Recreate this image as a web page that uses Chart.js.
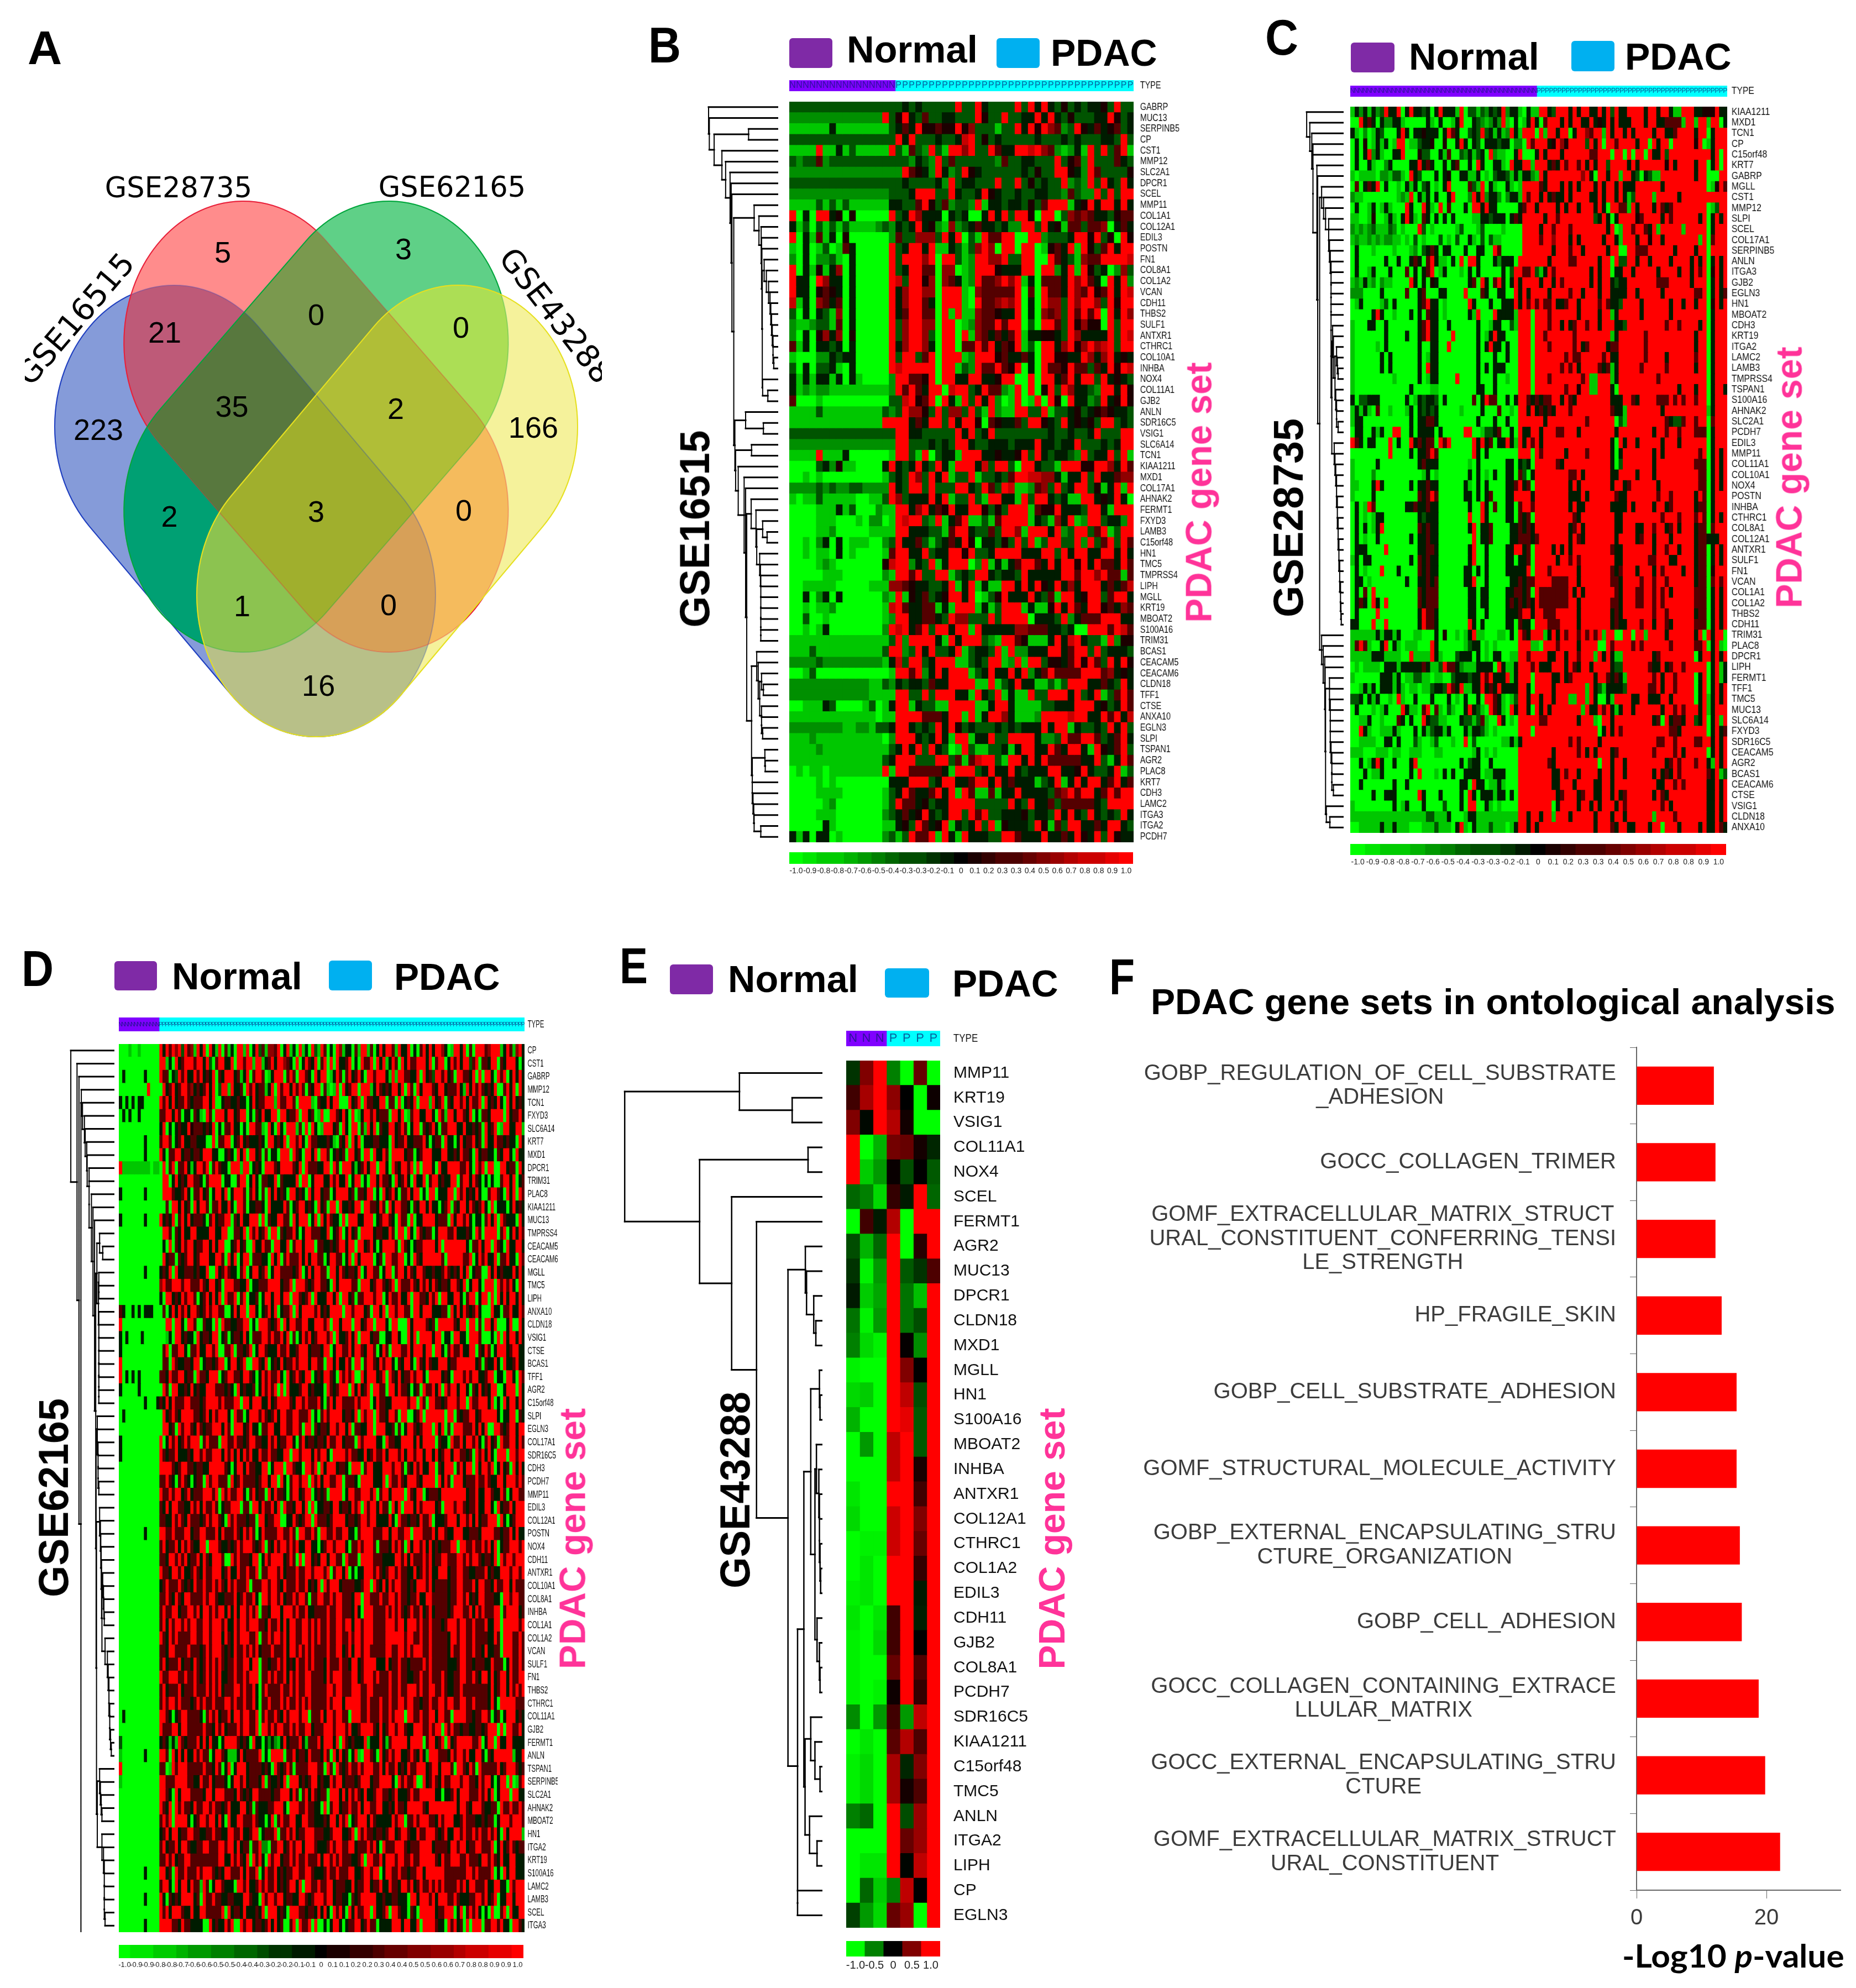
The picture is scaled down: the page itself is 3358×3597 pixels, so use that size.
<!DOCTYPE html>
<html lang="en">
<head>
<meta charset="UTF-8">
<title>PDAC gene sets</title>
<script src="https://cdn.jsdelivr.net/npm/chart.js"></script>
<style>
  html, body { margin: 0; padding: 0; background: #fff; }
  #page { position: relative; width: 3358px; height: 3597px; overflow: hidden; background: #fff; }
  #page canvas { position: absolute; }
  .lbl { position: absolute; white-space: nowrap; line-height: 1; font-family: "Liberation Sans", Arial, sans-serif; }
  .swatch { position: absolute; border-radius: 6px; }
</style>
</head>
<body>
<div id="page"></div>
<script>
// Panel A: venn counts
const vennNames = ['GSE16515', 'GSE28735', 'GSE62165', 'GSE43288'];
const vennCounts = [223, 5, 3, 21, 0, 0, 35, 2, 166, 2, 3, 0, 1, 0, 16];
const vennCountX = [-1.824, -0.782, 0.731, -1.269, 0, 1.213, -0.706, 0.667, 1.819, -1.229, 0, 1.236, -0.62, 0.606, 0.019];
const vennCountY = [-0.559, -1.813, -1.836, -1.246, -1.371, -1.281, -0.723, -0.707, -0.574, 0.055, 0.02, 0.012, 0.688, 0.68, 1.25];

// level digit -> expression value, used by the row strings below
const levels = [-1, -0.78, -0.56, -0.33, -0.11, 0.11, 0.33, 0.56, 0.78, 1];

// Panel B
const genesB = ['GABRP','MUC13','SERPINB5','CP','CST1','MMP12','SLC2A1','DPCR1','SCEL','MMP11','COL1A1','COL12A1','EDIL3','POSTN','FN1','COL8A1','COL1A2','VCAN','CDH11','THBS2','SULF1','ANTXR1','CTHRC1','COL10A1','INHBA','NOX4','COL11A1','GJB2','ANLN','SDR16C5','VSIG1','SLC6A14','TCN1','KIAA1211','MXD1','COL17A1','AHNAK2','FERMT1','FXYD3','LAMB3','C15orf48','HN1','TMC5','TMPRSS4','LIPH','MGLL','KRT19','MBOAT2','S100A16','TRIM31','BCAS1','CEACAM5','CEACAM6','CLDN18','TFF1','CTSE','ANXA10','EGLN3','SLPI','TSPAN1','AGR2','PLAC8','KRT7','CDH3','LAMC2','ITGA3','ITGA2','PCDH7'];
const typeB = 'NNNNNNNNNNNNNNNNPPPPPPPPPPPPPPPPPPPPPPPPPPPPPPPPPPPP';
const rowsB = [
'3333333333 3333333434 3333393394 3333939494 3534344539 33',
'2222222222 2222935943 6334433395 3393344949 4353334495 34',
'1111114111 1111134649 5565595733 3133949597 6239546456 34',
'3333333333 3333339493 3343348935 3433333433 3434333443 93',
'1111911413 1111193163 2931997933 9644998976 2124193936 91',
'3233623333 3333333324 3293633333 3263344333 9356293336 43',
'2222222222 2222222965 4294239543 3333343533 9954296333 35',
'3333333333 3333333433 3342934433 3933935343 3923293943 94',
'2222222222 2222233349 9933943349 5433433443 3263229393 99',
'1111313131 1111144336 9536233291 4434435369 9914594994 94',
'9040994505 0000093497 4440434004 9493995099 0376764435 66',
'4130313131 1112324349 4521723464 4342299394 5166366704 64',
'9041614050 0000026337 7739490319 6699009923 3349959350 95',
'1040130164 0000093499 4911431379 7099099015 6491953694 99',
'2040223104 0000093999 7909931299 7793399009 6431766999 98',
'9041514704 0000093499 6607701299 9544499099 2491953402 73',
'9440974404 0000098399 5707641296 6797914066 6497964094 92',
'9440565404 0000094799 7709991076 6666906096 6497695694 98',
'8140764604 0000094799 6409991096 6787904097 7397997395 99',
'3040431704 0000094699 6609191176 6544904076 7396969094 97',
'2112331604 0000093799 7709901276 6969903099 6395755093 99',
'2040574705 0000093799 7309909176 4646914455 4397444493 98',
'6140443404 0000094799 7409906696 9465913099 4795797893 99',
'1000224344 0000093993 6909991299 9564464099 5544974794 54',
'3040334104 0000098999 9909913296 6965904096 6596636495 98',
'4141441404 1000029966 5909944994 4599009099 4694993945 43',
'4121221111 1111129696 4990899349 6621909059 3974432994 95',
'6000100000 0000033895 6909419394 9201901909 5094423945 95',
'1111311111 1111323977 5393773931 9211993391 3345345654 43',
'1111111111 1111999946 4993949950 6544639954 3945453993 43',
'3333333333 3333339944 3333394934 9333333334 3343349333 99',
'2222222222 2222229933 3434399433 4443444944 3449333434 99',
'1111911140 0000019931 9034419994 4544593943 4432934493 91',
'0000342511 0000494349 4394199948 3993099433 1999559974 96',
'0010100000 0000134397 3949133913 3436998877 4144939446 77',
'2222323223 3222294399 3933399439 6398112673 9349935149 19',
'1011311111 0011397344 4949133931 9944193994 3411994549 40',
'0000111413 0002119947 9465944995 3539991655 9444399419 99',
'0000111000 1022019899 3291469113 1699991431 7491299344 29',
'0000112000 0011119944 4331699433 6399719994 9239936913 99',
'0010240401 1100239446 3134649504 4353939139 9339293693 96',
'0010110401 0000169944 9344995933 4999944499 3949944994 94',
'0000121000 0000589924 3914999029 1414699649 4995949664 96',
'0000011100 0000219969 3399134399 4344394444 4996997966 16',
'0011111000 0011177654 4334914914 1199494954 9474999464 68',
'0040240400 0000219154 6345994901 3594449436 1994599369 94',
'0010112000 0000189644 6614199914 1399914115 9496499564 76',
'0030010000 0000129944 6643977333 9399990444 3924666999 44',
'0010140000 0000298946 9399499194 4444776664 4340099969 86',
'1111111111 1111139299 9941949993 2199651114 9489433192 55',
'1113111111 1111399239 4933491344 3919224449 9469939344 43',
'2222322222 2222148399 3499911343 9912919935 5469596394 95',
'0013000000 0000019969 2494999134 9449492469 6666999674 54',
'2222222222 2211324344 3644999911 9134944113 1399944643 94',
'2222222222 2211119933 9399944194 3914119339 9949349136 96',
'0011143000 0130149914 3311999911 4994111133 4449994534 96',
'1111111111 1110119999 6664991914 9974111299 9989944969 48',
'2222222211 2213349943 4394953433 3434344494 9914334394 93',
'1112111111 1111029994 3494199144 9339999422 3966996346 94',
'1111211111 1111134949 3943019311 3341499449 6499419546 93',
'1111111111 1111349993 3399361689 9319949496 6666449314 96',
'0101101111 1111919966 6664199934 9449434449 9445943349 13',
'0000101000 0000044499 9349944699 4946444134 9149499469 46',
'0000111100 0000134964 4694919611 6144944443 6796994696 99',
'0000012000 0000139664 5344999933 3339439446 3666664399 99',
'0000111000 0000234645 9434993969 3344453443 9494394343 94',
'0000041000 0000114539 6459143493 9154443951 6399446499 43',
'4140440100 0000231396 6919419444 3399644494 4649549395 44'
];

// Panel C
const genesC = ['KIAA1211','MXD1','TCN1','CP','C15orf48','KRT7','GABRP','MGLL','CST1','MMP12','SLPI','SCEL','COL17A1','SERPINB5','ANLN','ITGA3','GJB2','EGLN3','HN1','MBOAT2','CDH3','KRT19','ITGA2','LAMC2','LAMB3','TMPRSS4','TSPAN1','S100A16','AHNAK2','SLC2A1','PCDH7','EDIL3','MMP11','COL11A1','COL10A1','NOX4','POSTN','INHBA','CTHRC1','COL8A1','COL12A1','ANTXR1','SULF1','FN1','VCAN','COL1A1','COL1A2','THBS2','CDH11','TRIM31','PLAC8','DPCR1','LIPH','FERMT1','TFF1','TMC5','MUC13','SLC6A14','FXYD3','SDR16C5','CEACAM5','AGR2','BCAS1','CEACAM6','CTSE','VSIG1','CLDN18','ANXA10'];
const typeC = 'NNNNNNNNNNNNNNNNNNNNNNNNNNNNNNNNNNNNNNNNNNNNNPPPPPPPPPPPPPPPPPPPPPPPPPPPPPPPPPPPPPPPPPPPPPP';
const rowsC = [
'1424142394 4904944340 4944419033 1324349244 1041199439 9949499449 4939449999 4994994119 9944555944',
'0094640422 4410000041 0400149004 3212429104 0149406999 4949944945 4949444999 4994466661 9919919904',
'4102014300 0494044544 4049640034 3934141294 1999091994 9904997699 1949949499 9949944699 9949904999',
'0405014140 1990113445 0050049404 3044434402 2096999459 7599993949 0996999949 9094990999 9959014999',
'0404924100 4490005330 0416003241 3409211004 9000494999 4999999669 9909909099 0944939999 9999994909',
'0400410024 0000449464 0040460040 9400441094 4991999464 9699694949 9399994949 9999959499 9949904909',
'1011110221 3310943000 4045004411 4010344314 1442194999 9999979409 9499199430 4311999999 9949900099',
'0604649040 0104140340 1049000063 1904100410 1999964999 4949499949 4994944499 9999499999 9999901596',
'2110000000 0121904140 4004900029 4924420244 1969949464 4949999449 4994941399 9919999949 9999999999',
'0400140141 0009400941 0906000409 9494400000 4699499994 9499499949 4099661949 9949646999 9999901399',
'1100150014 1049410640 4040400001 1443444046 4999994996 9999999934 9404999956 9999496999 9994904949',
'2121231113 2010009301 0000013000 1300001000 0999949969 9969999999 9490199699 6491999991 9999904999',
'1211212122 1101030100 0301030041 0303110000 0999969979 9949499999 4994199949 9599499999 9991906999',
'0400010000 1000120346 4044000400 4400960000 0999999949 9969949999 9499009966 6999999499 9949909999',
'0400000040 0400464069 4110409099 4000424440 9999999499 9966999994 9909339949 9499994999 9494904949',
'0400140004 0006040469 0140001040 4000004039 9669314969 9999999494 9904499499 9994999949 9496905949',
'1214120211 0000940405 4000000046 0940694049 4999949949 6999999494 9943449999 9996669999 9499904949',
'2220000400 0006004600 0440000900 0640044009 4949999499 9969949994 9944449949 9999499999 9966904946',
'0140000130 4000004694 4010000094 0004004449 4969696694 4699499996 9644399994 9999994994 9949905949',
'0000049400 1000404064 4010000041 9000944441 9990999699 9999499994 9914999994 9999994999 9999904999',
'1000440040 0000004694 4004000000 4001440031 9990999699 4946996994 9994439999 9999969969 9994904999',
'1000000040 0004004694 4000900000 4014944000 9990996999 9996999999 9914999999 6999999999 9949904999',
'1000001040 0000004004 4009000000 4049440400 9990999699 9996946999 9466999999 6999999999 9949904999',
'1000000404 0000004014 4000000000 4000400400 9990999999 9696699999 6944999999 6999949999 9969904999',
'1000000404 0000004094 4000000000 4040444000 9990999999 6969499996 4614999996 9999969999 9949904999',
'1000000000 1000004014 4000090000 4000400100 9990999699 9999969119 9914999999 9996999999 9999904999',
'1000000000 0000400001 1000000000 4400400000 9990999999 9699599119 9940999999 9999999949 9949904994',
'4033444000 0004014344 3040000006 0496600404 9964646699 4964999999 9944499649 9996669696 9969904999',
'1414106001 0001404343 4000001000 0400060010 9949464649 9969999999 9964419999 9999499999 9999914999',
'1440000000 0000404466 4000000000 4000400400 9999994999 9999996999 9990319999 9999964336 9969906999',
'0440041400 9900404444 0400000990 0133460040 9449949996 6999499999 9994999999 9949969969 9966604999',
'9640440009 0400946466 0969000009 4946044941 9496949999 9999999999 9940949949 9999499949 9999904999',
'0000000009 0000404469 6000000009 4040000000 9990969999 9499996999 9940499999 9949499999 9996904949',
'1000004000 0000004644 4000000010 4000000440 4340999996 4999999999 9940399999 9949999999 9966604949',
'1000020000 0000000140 1000000040 4010400440 6304999999 9966949999 9944999949 9949999999 9996604949',
'1100049400 0000404464 4000000410 4040000446 9460999999 9949499999 9949946999 9994999999 9996604949',
'1000040000 0000006469 6000000440 4046000449 9994999999 9944494999 9996449999 9996996999 9949604999',
'0401960000 0004464464 4000000040 0940600440 6996999999 9949449999 9944449499 9949946999 9946604999',
'0401014400 0000004344 4000000090 0940000440 6460999999 9996499999 9994499999 9999699969 9969604949',
'0404014900 0000006464 4000000049 0446000044 6464999999 9946949999 9994499944 9969946949 9946606999',
'0401004000 0000404464 4000000009 0446000044 6664699999 9949649999 9994999946 9949994999 9946644499',
'0444000090 0000004466 4000000049 0040000449 9460999949 4949999999 9964499999 9949969949 9946604949',
'1404400000 0000406464 4000000049 0040000440 4460999994 9969699999 9994499999 9669994499 9946604949',
'0401000900 0400006464 4000000440 4040000444 4490999699 9999499999 9964699949 9949699994 9946605999',
'0440100000 0004004464 6000000449 0040000044 6466999966 6699499999 9966499996 9969969999 9946606969',
'0406090000 0000006466 6000000044 0440000446 6460966666 6694949999 9996499966 9969694999 9966604949',
'0464094090 0000006466 6000000044 0440000464 6464966666 6699499999 9966499966 9969699999 9966604949',
'0400009000 0000004966 4000000044 0040000444 6994996669 9999499999 9946499999 9969969999 9946604949',
'4400090090 0000004966 4000000094 0400000440 6440999666 9999499999 9946449996 9949964999 9966604949',
'1111114144 1400011000 4050010149 1100011040 9649991494 9699696969 1990099099 1999949999 9949094990',
'1696100490 4101110009 4000000134 4010100000 9991109996 9999499990 0969999696 9999996999 9966904910',
'1111144411 1100911119 4100034440 4010440011 9969999449 9499699919 4941199999 9946999999 9904994949',
'0101111044 4144444641 1396642111 4444094114 9996944499 9496499499 9943399999 9644946996 9999904914',
'1000000444 1401133110 1100344434 4969444914 9990999944 9469999949 9646419999 9969499699 9904904914',
'0014140444 1410110113 4439649114 4946494444 9940999949 9999991943 1444439999 9669499699 9904904949',
'3340414001 0910040004 0004010400 4099641013 9949949949 9911991940 0419999449 9444994999 9904914949',
'0400010140 0094110690 6103100494 3109641094 9940949499 9999919449 6941499499 9999499696 9994914999',
'0011400100 0640400943 3110004331 3610094010 9999966999 9999499910 9949999999 9946094664 9934904919',
'0094100111 4100040413 4414000414 4310100000 9990999999 9999999990 4949699999 9999996649 9999904946',
'0011110044 0400031001 3000100903 0000001141 4999999999 9969699994 9999999999 9996699699 9966994949',
'1110001110 1100111000 1100000001 4010100000 9999999949 9999694949 9946999999 9969999694 9999904949',
'0040149400 4000490000 0000004034 4004000000 9999999649 9999999990 9949949999 9999946969 9969941949',
'0004011400 0000409000 1040400444 4011444000 9999999944 9699499994 9949949999 9949464969 9999964913',
'0040000000 4004000000 0000004409 4401141000 9999999944 9994999944 9949999999 9994499696 9999944949',
'0000040044 4000009400 0400004094 0444144040 9999999994 6999469944 9949469999 9949649999 9999944949',
'1000000000 4014000400 0030004099 0041010000 9999999904 9999499494 9994969999 9999694999 9999944949',
'1111111111 1111111133 1114000144 1111111111 9949949919 9949999949 9949949999 9919999699 9999944949',
'0011111411 4111000111 3111049104 1113111014 9949499999 9999999949 9964994499 9499099949 9994944964',
'0011111141 0000000039 4030009100 1110010000 9499499999 9999946969 9949949139 4949469996 9999943969'
];

// Panel D
const genesD = ['CP','CST1','GABRP','MMP12','TCN1','FXYD3','SLC6A14','KRT7','MXD1','DPCR1','TRIM31','PLAC8','KIAA1211','MUC13','TMPRSS4','CEACAM5','CEACAM6','MGLL','TMC5','LIPH','ANXA10','CLDN18','VSIG1','CTSE','BCAS1','TFF1','AGR2','C15orf48','SLPI','EGLN3','COL17A1','SDR16C5','CDH3','PCDH7','MMP11','EDIL3','COL12A1','POSTN','NOX4','CDH11','ANTXR1','COL10A1','COL8A1','INHBA','COL1A1','COL1A2','VCAN','SULF1','FN1','THBS2','CTHRC1','COL11A1','GJB2','FERMT1','ANLN','TSPAN1','SERPINB5','SLC2A1','AHNAK2','MBOAT2','HN1','ITGA2','KRT19','S100A16','LAMC2','LAMB3','SCEL','ITGA3'];
const typeD = 'NNNNNNNNNNNNNPPPPPPPPPPPPPPPPPPPPPPPPPPPPPPPPPPPPPPPPPPPPPPPPPPPPPPPPPPPPPPPPPPPPPPPPPPPPPPPPPPPPPPPPPPPPPPPPPPPPPPPPPPPPPPPPPPPPPP';
const rowsD = [
'0001001000 0009496979 3967194909 4190614099 1904936177 6904914091 4093196040 9714406199 1604949961 9449040694 9499740199 4906099967 9991496179 4',
'0000000000 0009914094 6999699493 0699449099 6991991469 4997640904 9649069090 9446904096 6909491496 0949669994 9069904969 4993690664 9906499940 4',
'0400000040 0009660439 6944969464 9064999461 4906996014 9990696099 6409499014 9606946940 9969994191 9966449094 6399694609 9664909099 4096904949 4',
'0000000009 0000946946 9967464694 9039919446 0969466149 0969949696 0649906101 9094699099 9149646499 4909609499 9649946669 4194969646 4900694909 4',
'4040404400 0009694946 6964666994 9004664464 4049466999 1966996099 9910644949 9000946909 6644990660 9046490999 1946906499 6949669094 6494094946 4',
'0404004000 0006699496 0440641096 0999499469 9040649449 9099466909 9460190099 6494090149 9694666099 4901699449 9409619949 9649040664 9999094669 4',
'0000000000 0004904046 4495666464 9040669440 4099661094 0940999160 9094019994 6094099061 9490644994 6960499064 6940669994 4944646094 6901994499 1',
'0000000040 0006996046 9446644400 9066990469 4644464099 4649099694 0966444641 0649094904 4466444094 6694466694 0466094404 9466946094 4966464409 4',
'0000000040 0009406699 4664664999 4400464094 9099460604 4099909640 9949099604 6460994609 9094496099 9946604699 9444994464 9664094664 4064994094 4',
'9111111111 0110906906 6941499690 6964409991 9904640999 6499996490 9666449909 6099941469 4990994096 4996909099 9409449999 6694096909 9009946609 4',
'0000000000 0000990494 6499664069 9990440069 9049406644 9064444909 9049994496 9449049904 0994966409 4694094490 6994644990 6994964040 4006994904 6',
'4000000040 0000999644 6940669460 4994904999 6069406094 9464099464 0949946604 9999460664 9904094694 0669499040 9904449909 6946494006 9964094909 6',
'0000000000 0000060994 9460949960 6694494099 6044664094 4449604699 4640946099 0944649909 9664960949 9664064994 9440469064 9949646940 9044404946 4',
'4000000040 0009464906 9494666406 9466990649 4499909064 4996609499 9049094964 4090999449 9904699640 9660904499 9946660949 9694044069 4909644409 4',
'0000000000 0000996064 9449944449 9449900664 9096946909 9064669404 9966644904 6904946099 9946644960 9909409646 6049996694 4464096099 9906904949 6',
'0000000000 0000409064 9699466994 9499004694 6009449660 9944906994 9990664464 6994990994 6940499996 0964046699 9949099999 9940669499 0964094499 4',
'0000000000 0000946606 4699469994 4996094904 9906664409 4906966694 9499660499 6604909499 9904609966 9904096499 9999609999 9669049694 4906694409 6',
'0000000040 0004649094 4666464490 0946964406 9049946904 9966664690 4949966099 4964664904 9966049906 9949649964 4644696464 9490466009 4946444949 4',
'0000000000 0007966999 6996669649 9460999664 4904466699 9946690999 6469966409 4999966099 9469964690 9666964969 4964664996 4904994099 9096969409 4',
'0000000000 0004099464 9699604694 9490966906 9044604994 9949909964 6909444994 9099460669 9969904966 9449099664 9690994499 4069904990 9094949949 4',
'6400404044 4000604949 6949964696 9966004949 9099404694 9046690949 9996946499 9909969994 6099490996 9966099499 9444660949 4964694000 9440669449 6',
'9000000000 0000099099 4099600644 0909664466 9904099964 6909499669 9449996909 9499909946 9909994099 0009499996 4609999964 9909906099 4900049009 4',
'4040000400 0000014099 4644094664 9904604664 9406669969 6694906049 6946999690 9446949099 9466004499 4009490999 9499044099 4409996000 4090949949 4',
'4000000000 0000690669 9406694499 6900669066 4690499644 4966944699 9466649904 9966949964 9960496099 9669499949 9099406966 9449906496 0499946994 4',
'9000000000 0000660964 4664990466 4699049946 9009964904 6494669699 9499660994 9449609906 9964969940 6499409649 6449994669 9999946064 4940944694 4',
'9040404000 0006649669 9466096649 9904699664 9964049696 6940946964 9904649964 0969690094 9994690964 9466969940 9999464099 9696994469 9044099409 6',
'4000004000 0000960994 4649464499 9666464094 6446049696 9090944469 9464440964 6999094946 9099660994 9664046096 6949096994 9940649464 9900499909 4',
'0000000040 0046494966 6996664699 9969666990 9949994494 6999964996 9666940694 9966669699 9049664499 9996990960 9966469996 9909669994 9040949949 4',
'0400000000 0000946964 9999664694 9699940966 0499969646 9499669966 6904069699 9946649096 9909664996 0990046909 9999909906 4669946999 9940449906 4',
'0000000000 0000994609 6996496466 9994960999 4694406699 4499669960 9906466499 6994906644 9909994460 6049964699 9094906099 9666949490 0996469949 9',
'4000000000 0009049694 6969990696 6609966966 4699664496 9466994069 4664664966 9946660969 9994409664 4999949499 9906440966 9499694069 4609669949 6',
'4000000000 0009646694 4464996966 9994969494 9694496696 6449909969 9949699409 9996966449 4696694999 6949969949 9494699499 6646096949 4099909969 9',
'0000000000 0009999646 9966466449 9999640499 4966449904 9990996440 9969094999 4664099906 9944499969 9606496944 9906499906 9499094996 9049460949 4',
'0000000000 0006696406 9640466096 9966609469 6666469949 9094069969 9096949966 9906664099 9944490966 9649996499 9909496099 9466696696 4499499969 6',
'0000000000 0009669699 4694666999 6909696699 4069466094 9664069946 9904646099 9904996699 9690699499 9909649904 6664999999 9946694499 6449604996 6',
'0000000000 0006494996 6449694966 9604669990 6609949669 4909664994 9090446649 9466496909 6994966094 9099949699 9946099969 9646694499 4094669499 9',
'0000000000 0006644969 6496664696 9964096966 6466099466 9900449646 9909666469 9994664699 6994444940 9664664966 9044469994 9969494669 9909404699 9',
'0000000040 0009966966 6994669966 6949666964 9696049666 6996696099 6696099669 6699440699 9966699499 6699099966 6949964499 9446664999 9664669494 4',
'0000000000 0006946694 9696449909 9964464696 9996469064 9699696944 9944046996 9994066969 9960666496 9609499694 9464666990 9966966969 4904669996 9',
'0000000000 0006649969 6946694964 9996009696 6649904969 9994696090 9946499499 6609666099 9966644449 9694966696 9466996669 9696996466 4909699699 9',
'0000000000 0009664996 9446964966 9994694496 6966906699 9694666966 9969996906 9949040449 9969646996 9664494696 9449994669 9664466694 6449996996 9',
'0000000000 0004696669 6464966966 9696496966 6906669969 9649666966 9464909699 9466664469 9096494969 9664649996 9466664669 9666949966 4966994966 6',
'0000000000 0006696496 4996666969 9644666946 9669409969 9694669699 6066996696 9966649909 9666966996 9664669449 9666664669 9694649966 6440996996 6',
'0000000000 0006966994 6699694996 9699494949 9696906649 9949996966 9446666966 9966649409 9966669696 9646966946 9466664699 9669496966 6990699994 6',
'0000000000 0006949699 6969966996 9996944969 9699966496 6949499669 9696966966 9969949969 9966669996 9949996966 9666469996 9966966694 4990999996 9',
'0000000000 0009649696 6669966996 9994964969 9966906696 9969499669 9696966966 9966969969 9966669999 9969966966 9666664996 9966966664 4960999669 6',
'0000000000 0006649966 6696664696 9996464966 9696946669 6669499696 9696666966 9946949969 9666669966 9969699966 9666664966 9966966494 4660999669 6',
'0000000000 0006946669 4664964696 9696466966 9949906646 6969464966 9696664966 6966499469 9994449466 9664666696 9666664446 9966466644 9666049669 6',
'0000000000 0009669996 6966964696 9694466966 9699906696 9669496966 9966664969 9966699469 9969666966 9664466966 9666964466 9966964994 9469949669 9',
'0000000000 0006946669 4666966696 9694666996 9669406966 6696696966 9966666996 9966699966 9966666966 9669996966 9966964466 9666666664 9469949696 9',
'0000000000 0006969969 6664696966 9666996966 9669406696 6696966969 6966666969 9949999966 9666966966 9969966466 9669969966 9966966664 9409999966 6',
'0400000000 0009964046 9966664069 6946694996 9966906966 9649699969 9066694996 9966099966 9666966969 9909966966 9949966099 9966466996 0460499946 4',
'0000000000 0009666994 9966666966 4969466696 9966909969 6996696966 9946669996 9996944699 9964946996 9964499966 9699096966 4664466469 9909099669 4',
'3000000000 0004641419 6466694949 4404999964 6409440424 2149466694 1666949994 9096464449 1444941699 9994999906 9946909469 9999669049 9094499444 4',
'1000000040 0009960949 4944969660 4996411149 4666690409 9990669466 4966649609 4946049109 9640946969 9446964941 9996664969 9694499406 4999999144 9',
'9000000000 0006601969 9966666966 4960490499 9466664640 9646960666 6999660960 9646966969 9966949669 4649669994 6994999609 9649609666 6694699964 6',
'1000000000 0009966699 9966449669 4666404996 9466649064 4649099946 4699464496 9946664699 9466999940 9696690094 6964966999 6996649699 4049909016 9',
'0000000000 0009964094 9996666499 4999666496 4649966664 6699949606 9496466099 9494969649 4469966469 4446966999 9944044694 9996669694 9049990994 4',
'0000000000 0009649096 9664966996 9664694449 9460644466 9994099966 9664409069 9466966949 9669944649 6649999964 9999999994 9964999644 6609669669 6',
'0000000000 0006969099 9940469969 9494094499 6669644049 0696699449 9664446499 4969046999 4964444496 9906696999 6649699944 6966644646 6049996999 6',
'0000000000 0004694994 6699664466 9664499669 4469904666 9066969466 9996664469 9944690969 6646646994 6996449669 9964694499 6966969669 6940949999 1',
'0000000000 0006946694 9964466996 6699699494 6606692206 6994696994 9996444696 9966994666 9694096669 9964666999 9466664996 9946699666 9049469646 6',
'0000000000 0006696946 6996666666 6699449696 4909694096 9946696966 9666949969 6966644690 9966949996 9966966999 9964966999 6696664996 9649449944 4',
'0000000040 0009946096 6966696999 6464996669 4966904966 9464669966 9964446966 9666994469 9699049966 9664669949 9999966666 6699696666 9040949944 4',
'0000000000 0006994094 9949661960 4996444099 6944696966 9464699490 9966966994 6664494669 9466944966 4996946966 9696966669 6949966694 4994409699 9',
'0000000040 0009406464 9999460966 9664466444 9964409699 6994664499 6469996994 6644064699 9994464466 4440994999 6949996696 4446699694 6904499499 9',
'0000000000 0009694999 6449449966 6669094664 9444649099 9464099966 4664949409 6940949669 9094469099 6440640999 9946699904 9069694040 9006909449 9',
'0000000040 0009999664 9664444009 4644969009 6994664694 9460069096 6909004049 9404669946 9660444499 9499449099 9964409694 6090999066 9969440996 4'
];

// Panel E, read cell by cell
const genesE = ['MMP11','KRT19','VSIG1','COL11A1','NOX4','SCEL','FERMT1','AGR2','MUC13','DPCR1','CLDN18','MXD1','MGLL','HN1','S100A16','MBOAT2','INHBA','ANTXR1','COL12A1','CTHRC1','COL1A2','EDIL3','CDH11','GJB2','COL8A1','PCDH7','SDR16C5','KIAA1211','C15orf48','TMC5','ANLN','ITGA2','LIPH','CP','EGLN3'];
const typeE = 'NNNPPPP';
const rowsE = [
[-0.2,0.5,1,-0.5,-1,0.4,-1],[0.25,0.65,1,0.55,0,-1,0.05],[0.5,-0.03,1,0.7,0.07,-1,-1],
[1,-1,-0.7,0.45,0.4,0.08,-0.15],[1,-0.8,-0.6,0.03,-0.3,0,-0.35],[-0.4,-0.5,-0.85,0.2,-0.1,1,-0.4],
[-1,0.25,-0.1,0.7,-1,1,1],[-0.3,-0.7,-0.4,1,-1,0.15,1],[-0.2,-0.95,-0.6,1,-0.35,-0.2,0.3],
[-0.1,-0.8,-0.65,1,-0.45,-0.75,1],[-0.45,-0.95,-0.6,1,-0.45,-0.3,1],[-0.5,-0.85,-0.95,1,0.02,-0.55,1],
[-0.95,-1,-1,1,0.5,0,1],[-0.85,-0.8,-1,1,0.75,-0.3,1],[-0.7,-1,-1,1,0.9,-0.35,1],
[-1,-0.6,-1,0.75,1,-0.35,1],[-1,-1,-1,0.75,1,0.1,1],[-0.9,-1,-1,1,1,0.25,1],
[-0.85,-1,-1,0.8,1,0.5,1],[-1,-0.95,-0.95,0.8,1,0.4,1],[-1,-0.9,-1,1,1,0.2,1],
[-0.95,-0.9,-1,1,1,-0.1,1],[-0.9,-1,-0.9,0.25,1,-0.12,1],[-0.95,-1,-0.85,0.25,1,0,1],
[-0.95,-1,-1,0.4,1,0.3,1],[-0.95,-1,-0.95,0.05,1,0.2,1],[-0.55,-1,-0.6,0.25,-0.6,0.75,1],
[-1,-0.9,-1,0.35,0.7,0.3,1],[-0.95,-0.85,-1,0.65,-0.15,0.5,1],[-0.95,-0.85,-1,0.65,0.08,0.3,1],
[-0.5,-0.4,-1,1,-0.3,0.6,1],[-1,-1,-1,1,0.4,0.6,1],[-1,-0.9,-0.9,1,-0.02,0.75,1],
[-1,-0.4,-0.8,-0.5,0.75,0,1],[-0.25,-0.6,-0.85,0.4,0.6,-1,1]
];

// Colour keys
const scaleTicks25 = ['-1.0','-0.9','-0.8','-0.8','-0.7','-0.6','-0.5','-0.4','-0.3','-0.3','-0.2','-0.1','0','0.1','0.2','0.3','0.3','0.4','0.5','0.6','0.7','0.8','0.8','0.9','1.0'];
const scaleTicks35 = ['-1.0','-0.9','-0.9','-0.8','-0.8','-0.7','-0.6','-0.6','-0.5','-0.5','-0.4','-0.4','-0.3','-0.2','-0.2','-0.1','-0.1','0','0.1','0.1','0.2','0.2','0.3','0.4','0.4','0.5','0.5','0.6','0.6','0.7','0.8','0.8','0.9','0.9','1.0'];
const scaleTicks5 = ['-1.0','-0.5','0','0.5','1.0'];

// Panel F
const ontologyTerms = [
  ['GOBP_REGULATION_OF_CELL_SUBSTRATE', '_ADHESION'],
  ['GOCC_COLLAGEN_TRIMER'],
  ['GOMF_EXTRACELLULAR_MATRIX_STRUCT', 'URAL_CONSTITUENT_CONFERRING_TENSI', 'LE_STRENGTH'],
  ['HP_FRAGILE_SKIN'],
  ['GOBP_CELL_SUBSTRATE_ADHESION'],
  ['GOMF_STRUCTURAL_MOLECULE_ACTIVITY'],
  ['GOBP_EXTERNAL_ENCAPSULATING_STRU', 'CTURE_ORGANIZATION'],
  ['GOBP_CELL_ADHESION'],
  ['GOCC_COLLAGEN_CONTAINING_EXTRACE', 'LLULAR_MATRIX'],
  ['GOCC_EXTERNAL_ENCAPSULATING_STRU', 'CTURE'],
  ['GOMF_EXTRACELLULAR_MATRIX_STRUCT', 'URAL_CONSTITUENT']
];
const ontologyValues = [11.9, 12.15, 12.15, 13.1, 15.4, 15.4, 15.9, 16.2, 18.8, 19.8, 22.1];

// Dendrograms: node = [height, upper child, lower child], 0 = leaf
function lad(heights, tail) { return heights.reduceRight((t, h) => [h, 0, t], tail); }

const treeB = lad([188,186],[173,[80,0,0],lad([152,142,130,127,125],[120,
  lad([65,52,46,45,44],[43,lad([38,32,26,22,20,18,16,14,14],[12,0,0]),[42,0,[28,0,0]]]),
  [117,[88,0,[40,0,0]],[115,[72,0,0],lad([108,92,88],[85,
    lad([73,60],[58,[42,0,[30,0,0]],lad([50,48,47,47,47,47,47],[47,0,0])]),
    [72,lad([58,54],[50,lad([45],[40,0,0]),lad([45,45],[42,0,0])]),
      [70,[36,0,[35,0,0]],lad([70,68,66,65],[47,0,0])]]
  ])]]
])]);
const treeC = lad([94,86,81,78,78,68,66],[61,
  lad([56,51,46,38,38,36,34,32,32,32,32,32,32],[30,
    lad([28,26],[22,lad([18,16],[14,0,0]),lad([20,18,18],[14,0,0])]),
    lad([24,22,20,18,18,16,16,14,14,12,12,10,10,8,8,7],[6,0,0])]),
  lad([56,52,48,47],[46,lad([36,36,34,34,34,34,32,30,30,30],[26,0,0]),[44,0,[35,0,0]]])
]);
const treeD = lad([112,96,91],[86,
  lad([85,82,77,75,71,70,65,65,59,55,51],[48,
    [45,[38,0,[30,0,0]],[41,lad([40],[40,0,0]),lad([40,40,40,40,40,40],[40,0,0])]],
    [47,lad([44,44,42,42,42],[40,0,0]),[46,
      lad([38,36,35,34,33],[32,lad([30,28,27],[26,0,0]),lad([24,18,16,14,14,12,12,10],[8,0,0])]),
      [44,lad([38,36,34],[32,0,0]),lad([32,28,26,26,26,26],[24,0,0])]]]
  ]),
  [86,0,0]]);
const treeE = [660,[277,0,[101,0,0]],[410,[48,0,0],[303,0,[220,0,[115,
  [57,0,[53,0,[29,0,[22,0,0]]]],
  [83,[62,
    [39,[10,0,[8,0,0]],[25,lad([20,12,10,10],[8,0,[6,0,0]]),lad([18],[10,0,[8,0,0]])]],
    [58,[39,0,[25,0,[8,0,0]]],[43,0,[18,0,0]]]],
    [83,0,0]]
]]]]];

const NARROW = '"Liberation Sans Narrow", "Liberation Sans", Arial, sans-serif';
Chart.defaults.animation = false;
Chart.defaults.responsive = false;
Chart.defaults.devicePixelRatio = 1;
Chart.defaults.events = [];
Chart.defaults.plugins.legend.display = false;
Chart.defaults.plugins.tooltip.enabled = false;

const page = document.getElementById('page');

function addCanvas(x, y, w, h) {
  const c = document.createElement('canvas');
  c.width = w; c.height = h;
  c.style.left = x + 'px'; c.style.top = y + 'px';
  page.appendChild(c);
  return c.getContext('2d');
}

function cellColor(v) {
  return v < 0 ? `rgb(0,${Math.round(-v * 255)},0)` : `rgb(${Math.round(v * 255)},0,0)`;
}
function decode(rows) {
  return rows.map(r => [...r.replace(/ /g, '')].map(d => levels[+d]));
}

// row labels live in their own axis-only chart, squeezed sideways like the original type
function rowLabelAxis(box, labelW, rowLabels, tick) {
  const w = Math.round(labelW / tick.k);
  const ctx = addCanvas(box.x + box.w, box.y, w, box.h);
  ctx.canvas.style.transformOrigin = 'left top';
  ctx.canvas.style.transform = `scaleX(${tick.k})`;
  return new Chart(ctx, {
    type: 'bar',
    data: { labels: rowLabels, datasets: [{ data: [] }] },
    options: {
      indexAxis: 'y',
      layout: { padding: 0 },
      scales: {
        x: { display: false, min: 0, max: 1 },
        y: {
          position: 'right',
          grid: { display: false, drawTicks: false }, border: { display: false },
          ticks: { autoSkip: false, crossAlign: 'near', padding: tick.pad / tick.k, color: '#111', font: { family: NARROW, size: tick.size } },
          afterFit(a) { a.width = w - 1; a.paddingTop = 0; a.paddingBottom = 0; }
        }
      }
    }
  });
}

// cells as floating bars, one dataset per column
function cellChart(box, labelW, nCols, rowLabels, colorAt, tick, plugins) {
  const datasets = [];
  for (let c = 0; c < nCols; c++) {
    datasets.push({
      data: rowLabels.map(() => [c, c + 1]),
      backgroundColor: rowLabels.map((_, r) => colorAt(r, c)),
      grouped: false, barPercentage: 1, categoryPercentage: 1, borderWidth: 0, inflateAmount: 0.5
    });
  }
  rowLabelAxis(box, labelW, rowLabels, tick);
  return new Chart(addCanvas(box.x, box.y, box.w, box.h), {
    type: 'bar',
    data: { labels: rowLabels, datasets },
    options: {
      indexAxis: 'y',
      layout: { padding: 0 },
      scales: {
        x: { display: false, min: 0, max: nCols },
        y: { display: false }
      }
    },
    plugins: plugins || []
  });
}

function heatmap(box, labelW, rows, genes, tick) {
  return cellChart(box, labelW, rows[0].length, genes, (r, c) => {
    const row = rows[Math.min(r, rows.length - 1)];
    return cellColor(row[Math.min(c, row.length - 1)]);
  }, tick);
}

function typeStrip(box, labelW, types, tick, letterSize) {
  const letters = {
    id: 'letters',
    afterDatasetsDraw(chart) {
      const { ctx, scales } = chart;
      ctx.save();
      ctx.font = letterSize + 'px ' + NARROW;
      ctx.textAlign = 'center'; ctx.textBaseline = 'middle';
      ctx.fillStyle = 'rgba(10,26,112,0.7)';
      [...types].forEach((t, c) => ctx.fillText(t, scales.x.getPixelForValue(c + 0.5), scales.y.getPixelForValue(0)));
      ctx.restore();
    }
  };
  return cellChart(box, labelW, types.length, ['TYPE'], (r, c) => types[c] === 'N' ? '#8000ff' : '#00ffff', tick, [letters]);
}

function colorKey(box, keyH, ticks, tick) {
  return new Chart(addCanvas(box.x, box.y, box.w, keyH + tick.axisH), {
    type: 'bar',
    data: {
      labels: ticks,
      datasets: [{
        data: ticks.map(() => 1),
        backgroundColor: ticks.map(t => cellColor(parseFloat(t))),
        barPercentage: 1, categoryPercentage: 1, borderWidth: 0, inflateAmount: 0.5
      }]
    },
    options: {
      layout: { padding: 0 },
      scales: {
        y: { display: false, min: 0, max: 1 },
        x: {
          grid: { display: false, drawTicks: false }, border: { display: false },
          ticks: { autoSkip: false, maxRotation: 0, minRotation: 0, padding: tick.pad, color: '#222', font: { family: NARROW, size: tick.size } },
          afterFit(a) { a.height = tick.axisH; a.paddingLeft = 0; a.paddingRight = 0; }
        }
      }
    }
  });
}

function dendrogram(box, tree, maxH, nRows, widths) {
  const hLines = [], vLines = [];
  const gap = { x: NaN, y: NaN };
  let leaf = 0;
  (function walk(node) {
    if (!node) return { y: leaf++, h: 0 };
    const a = walk(node[1]), b = walk(node[2]), h = node[0];
    vLines.push({ x: h, y: a.y }, { x: h, y: b.y }, gap);
    hLines.push({ x: h, y: a.y }, { x: a.h, y: a.y }, gap, { x: h, y: b.y }, { x: b.h, y: b.y }, gap);
    return { y: (a.y + b.y) / 2, h };
  })(tree);
  const line = (data, w) => ({ data, showLine: true, spanGaps: false, pointRadius: 0, borderColor: '#000', borderWidth: w, borderCapStyle: 'square', tension: 0, clip: false });
  return new Chart(addCanvas(box.x, box.y, box.w, box.h), {
    type: 'scatter',
    data: { datasets: [line(vLines, widths[1]), line(hLines, widths[0])] },
    options: {
      layout: { padding: 0 },
      scales: {
        x: { display: false, reverse: true, min: 0, max: maxH },
        y: { display: false, reverse: true, min: -0.5, max: nRows - 0.5 }
      }
    }
  });
}

function label(text, o) {
  const d = document.createElement('div');
  d.className = 'lbl';
  d.textContent = text;
  d.style.fontSize = o.size + 'px';
  d.style.fontWeight = o.weight || 'bold';
  d.style.color = o.color || '#000';
  if (o.family) d.style.fontFamily = o.family;
  page.appendChild(d);
  const k = o.w ? o.w / d.offsetWidth : 1;
  if (o.rotate) {
    d.style.left = (o.cx - d.offsetWidth / 2) + 'px';
    d.style.top = (o.cy - d.offsetHeight / 2) + 'px';
    d.style.transform = `rotate(${o.rotate}deg) scaleX(${k})`;
  } else {
    d.style.left = o.x + 'px';
    d.style.top = (o.base - 0.8465 * o.size) + 'px';
    d.style.transformOrigin = 'left center';
    d.style.transform = `scaleX(${k})`;
  }
  return d;
}
function swatch(x, y, w, h, color) {
  const d = document.createElement('div');
  d.className = 'swatch';
  d.style.cssText = `left:${x}px;top:${y}px;width:${w}px;height:${h}px;background:${color}`;
  page.appendChild(d);
}
function legendRow(p) {
  swatch(p.nx, p.ny, p.nw, p.nh, '#7f2aa6');
  label('Normal', { x: p.tx, base: p.tBase, size: 69, w: p.tw });
  swatch(p.px, p.py, p.pw, p.ph, '#00b0f0');
  label('PDAC', { x: p.qx, base: p.qBase, size: 69, w: p.qw });
}

// ---- Panel A
const vennSets = [
  { a: [-1.19, -0.594], b: [0, 0.598], stroke: '#1f3fc0' },
  { a: [-0.61, -1.1875], b: [0.61, 0], stroke: '#e8203a' },
  { a: [0.61, -1.1875], b: [-0.61, 0], stroke: '#00a63c' },
  { a: [1.19, -0.594], b: [0, 0.598], stroke: '#e6e020' }
];
// region colour by membership bits: 1 blue, 2 red, 4 green, 8 yellow
const vennFill = { 1:'#859bd9', 2:'#ff8c8c', 4:'#5fd087', 8:'#f5f29b', 3:'#be5a78', 5:'#00a073', 6:'#7a994e', 9:'#b8c088', 10:'#f5bb5d', 12:'#acde55', 7:'#58783e', 11:'#d7a058', 13:'#8cc350', 14:'#b0be37', 15:'#a0af2d' };

const vennPlugin = {
  id: 'venn',
  beforeDatasetsDraw(chart) {
    const { ctx, scales: { x, y }, width, height } = chart;
    const sx = x.getPixelForValue(1) - x.getPixelForValue(0), sy = y.getPixelForValue(1) - y.getPixelForValue(0);
    const trace = (s, outer) => {
      const ang = Math.atan2(s.b[1] - s.a[1], s.b[0] - s.a[0]);
      ctx.beginPath();
      if (outer) ctx.rect(0, 0, width, height);
      ctx.save();
      ctx.translate(x.getPixelForValue(0), y.getPixelForValue(0));
      ctx.scale(sx, sy);
      ctx.moveTo(s.a[0] + Math.cos(ang + Math.PI / 2), s.a[1] + Math.sin(ang + Math.PI / 2));
      ctx.arc(s.a[0], s.a[1], 1, ang + Math.PI / 2, ang - Math.PI / 2);
      ctx.arc(s.b[0], s.b[1], 1, ang - Math.PI / 2, ang + Math.PI / 2);
      ctx.closePath();
      ctx.restore();
    };
    const bits = m => [0, 1, 2, 3].filter(i => m & (1 << i));
    Object.keys(vennFill).map(Number).sort((m, n) => bits(m).length - bits(n).length).forEach(m => {
      ctx.save();
      bits(m).forEach(i => { trace(vennSets[i]); ctx.clip(); });
      ctx.fillStyle = vennFill[m];
      ctx.fillRect(0, 0, width, height);
      ctx.restore();
    });
    // an outline fades where a later set lies over it
    vennSets.forEach((s, i) => {
      ctx.strokeStyle = s.stroke; ctx.lineWidth = 2;
      ctx.save();
      ctx.globalAlpha = 0.3;
      trace(s); ctx.stroke();
      ctx.restore();
      ctx.save();
      vennSets.slice(i + 1).forEach(t => { trace(t, true); ctx.clip('evenodd'); });
      trace(s); ctx.stroke();
      ctx.restore();
    });
  },
  afterDatasetsDraw(chart) {
    const { ctx, scales: { x, y } } = chart;
    ctx.save();
    ctx.fillStyle = '#000';
    ctx.textAlign = 'center'; ctx.textBaseline = 'middle';
    ctx.font = '54px "Liberation Sans", Arial, sans-serif';
    vennCounts.forEach((n, i) => ctx.fillText(String(n), x.getPixelForValue(vennCountX[i]), y.getPixelForValue(vennCountY[i])));
    ctx.font = '51px "DejaVu Sans", sans-serif';
    const ox = 45, oy = 300;
    [[140 - ox, 580 - oy, -49.5], [323 - ox, 344 - oy, 0], [818 - ox, 343 - oy, 0], [1002 - ox, 574 - oy, 52]].forEach((p, i) => {
      ctx.save();
      ctx.translate(p[0], p[1]);
      ctx.rotate(p[2] * Math.PI / 180);
      if (i === 0 || i === 3) ctx.font = '56px "DejaVu Sans", sans-serif';
      ctx.fillText(vennNames[i], 0, 0);
      ctx.restore();
    });
    ctx.restore();
  }
};
new Chart(addCanvas(45, 300, 1044, 1060), {
  type: 'scatter',
  data: { datasets: [{ data: vennCountX.map((v, i) => ({ x: v, y: vennCountY[i] })), pointRadius: 0 }] },
  options: {
    layout: { padding: 0 },
    scales: {
      x: { display: false, min: -2.44, max: 2.3935 },
      y: { display: false, reverse: true, min: -2.4375, max: 1.703 }
    }
  },
  plugins: [vennPlugin]
});

// ---- Panel B
const tickB = { size: 18, k: 0.8, pad: 11 };
heatmap({ x: 1428, y: 184, w: 623, h: 1340 }, 110, decode(rowsB), genesB, tickB);
typeStrip({ x: 1428, y: 145, w: 623, h: 20 }, 110, typeB, tickB, 16);
colorKey({ x: 1428, y: 1542, w: 622 }, 21, scaleTicks25, { size: 14, pad: 5, axisH: 30 });
dendrogram({ x: 1278, y: 184, w: 130, h: 1340 }, treeB, 194, genesB.length, [3, 2]);

// ---- Panel C
const tickC = { size: 18, k: 0.87, pad: 7 };
heatmap({ x: 2443, y: 193, w: 682, h: 1314 }, 90, decode(rowsC), genesC, tickC);
typeStrip({ x: 2443, y: 155, w: 682, h: 20 }, 90, typeC, tickC, 12);
colorKey({ x: 2443, y: 1527, w: 680 }, 20, scaleTicks25, { size: 14, pad: 5, axisH: 30 });
dendrogram({ x: 2362, y: 193, w: 69, h: 1314 }, treeC, 97, genesC.length, [3, 2]);

// ---- Panel D
const tickD = { size: 19, k: 0.6, pad: 5 };
heatmap({ x: 215, y: 1889, w: 734, h: 1607 }, 60, decode(rowsD), genesD, tickD);
typeStrip({ x: 215, y: 1841, w: 734, h: 25 }, 60, typeD, tickD, 11);
colorKey({ x: 215, y: 3519, w: 732 }, 24, scaleTicks35, { size: 13, pad: 5, axisH: 30 });
dendrogram({ x: 126, y: 1889, w: 81, h: 1607 }, treeD, 115, genesD.length, [3, 2]);

// ---- Panel E
const tickE = { size: 30, k: 1, pad: 23 };
heatmap({ x: 1531, y: 1919, w: 170, h: 1569 }, 160, rowsE, genesE, tickE);
typeStrip({ x: 1531, y: 1865, w: 170, h: 28 }, 160, typeE, { size: 20, k: 0.85, pad: 23 }, 22);
colorKey({ x: 1531, y: 3512, w: 170 }, 28, scaleTicks5, { size: 20, pad: 4, axisH: 32 });
dendrogram({ x: 1127, y: 1919, w: 361, h: 1569 }, treeE, 666, genesE.length, [3, 2.5]);

// ---- Panel F
const ontologyPlugin = {
  id: 'ontology',
  afterDraw(chart) {
    const { ctx, scales: { y } } = chart;
    const lineH = 43.6, right = 924;
    ctx.save();
    ctx.fillStyle = '#3c3c3c';
    ctx.font = '40px "Liberation Sans", Arial, sans-serif';
    ctx.textAlign = 'center'; ctx.textBaseline = 'middle';
    ontologyTerms.forEach((lines, i) => {
      const w = Math.max(...lines.map(l => ctx.measureText(l).width));
      const cy = y.getPixelForValue(i);
      lines.forEach((l, k) => ctx.fillText(l, right - w / 2, cy + (k - (lines.length - 1) / 2) * lineH));
    });
    ctx.restore();
  }
};
new Chart(addCanvas(2000, 1880, 1358, 1620), {
  type: 'bar',
  data: {
    labels: ontologyTerms.map(t => t.join('')),
    datasets: [{ data: ontologyValues, backgroundColor: '#ff0000', barPercentage: 1, categoryPercentage: 0.5, borderWidth: 0 }]
  },
  options: {
    indexAxis: 'y',
    layout: { padding: { top: 15, right: 28 } },
    scales: {
      x: {
        min: 0, max: 31.4,
        afterBuildTicks(a) { a.ticks = [{ value: 0 }, { value: 20 }]; },
        grid: { drawOnChartArea: false, tickLength: 15, color: '#666' },
        border: { color: '#666', width: 2 },
        ticks: { padding: 12, color: '#3c3c3c', maxRotation: 0, font: { family: '"Liberation Sans", Arial, sans-serif', size: 40 } },
        afterFit(a) { a.height = 80; a.paddingLeft = 0; a.paddingRight = 0; }
      },
      y: {
        grid: { offset: true, drawOnChartArea: false, tickLength: 12, color: '#666' },
        border: { color: '#666', width: 2 },
        ticks: { display: false },
        afterFit(a) { a.width = 961; a.paddingTop = 0; a.paddingBottom = 0; }
      }
    }
  },
  plugins: [ontologyPlugin]
});

// ---- Text around the panels
label('A', { x: 50, base: 116, size: 86 });
label('B', { x: 1173, base: 113, size: 90, w: 59 });
label('C', { x: 2289, base: 99, size: 90, w: 60 });
label('D', { x: 39, base: 1784, size: 90, w: 58 });
label('E', { x: 1121, base: 1779, size: 90, w: 51 });
label('F', { x: 2007, base: 1799, size: 90, w: 46 });

legendRow({ nx: 1428, ny: 69, nw: 78, nh: 54, tx: 1532, tBase: 113, tw: 237, px: 1803, py: 69, pw: 78, ph: 54, qx: 1901, qBase: 119, qw: 193 });
legendRow({ nx: 2444, ny: 77, nw: 79, nh: 54, tx: 2549, tBase: 126, tw: 236, px: 2843, py: 74, pw: 78, ph: 55, qx: 2940, qBase: 126, qw: 193 });
legendRow({ nx: 207, ny: 1739, nw: 77, nh: 53, tx: 311, tBase: 1790, tw: 236, px: 595, py: 1738, pw: 78, ph: 54, qx: 713, qBase: 1791, qw: 192 });
legendRow({ nx: 1212, ny: 1745, nw: 78, nh: 54, tx: 1317, tBase: 1795, tw: 236, px: 1601, py: 1752, pw: 80, ph: 53, qx: 1723, qBase: 1803, qw: 192 });

const rotated = [
  ['GSE16515', 1257, 957, 357, '#000', 76], ['GSE28735', 2331, 937, 360, '#000', 76],
  ['GSE62165', 97, 2710, 360, '#000', 76], ['GSE43288', 1330, 2696, 356, '#000', 76],
  ['PDAC gene set', 2168, 891, 471, '#ff3399', 66], ['PDAC gene set', 3236, 864, 473, '#ff3399', 66],
  ['PDAC gene set', 1035, 2784, 472, '#ff3399', 66], ['PDAC gene set', 1902, 2784, 473, '#ff3399', 66]
];
rotated.forEach(r => label(r[0], { cx: r[1], cy: r[2], w: r[3], color: r[4], size: r[5], rotate: -90 }));

label('PDAC gene sets in ontological analysis', { x: 2082, base: 1835, size: 64, w: 1239 });
const xTitle = label('', { x: 2935, base: 3558, size: 58, family: 'Lato, "Noto Sans", sans-serif' });
xTitle.innerHTML = '-Log10 <i>p</i>-value';
xTitle.style.transform = `scaleX(${402 / xTitle.offsetWidth})`;
</script>
</body>
</html>
